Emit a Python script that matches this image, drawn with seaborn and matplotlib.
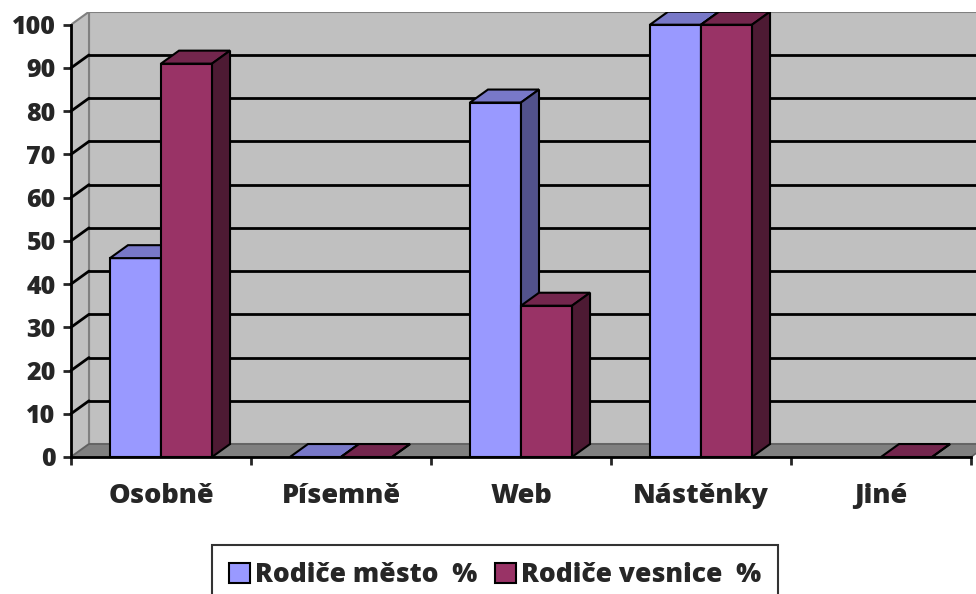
import numpy as np
import pandas as pd
import matplotlib
matplotlib.use("Agg")
import matplotlib.pyplot as plt
from matplotlib.patches import Polygon, Rectangle
import seaborn as sns

categories = ["Osobně", "Písemně", "Web", "Nástěnky", "Jiné"]
series_names = ["Rodiče město  %", "Rodiče vesnice  %"]
mesto = [46, 0, 82, 100, np.nan]
vesnice = [91, 0, 35, 100, 0]
yticks = [0, 10, 20, 30, 40, 50, 60, 70, 80, 90, 100]

front_colors = ["#9999FF", "#993366"]
top_colors = ["#7878C8", "#73264D"]
side_colors = ["#52528C", "#4D1A33"]

rows = []
for c, v in zip(categories, mesto):
    rows.append({"cat": c, "series": series_names[0], "val": v})
for c, v in zip(categories, vesnice):
    rows.append({"cat": c, "series": series_names[1], "val": v})
df = pd.DataFrame(rows).dropna()

sns.set_style("white")
FONT = ["Open Sans", "DejaVu Sans"]
plt.rcParams["font.family"] = FONT
plt.rcParams["font.weight"] = "heavy"

W, H = 976, 594
fig = plt.figure(figsize=(W / 100, H / 100), dpi=100)
DX, DY = 0.1, 3.0
x0, x1 = -0.5, 4.5 + DX
y0, y1 = 0, 100 + DY
px_per_x = 180.0
px_per_y = 4.323
left_px, bottom_px = 71, 457
ax = fig.add_axes([left_px / W, (H - bottom_px) / H,
                   (x1 - x0) * px_per_x / W, (y1 - y0) * px_per_y / H])
fig.patch.set_facecolor("white")
ax.set_facecolor("none")

sns.barplot(data=df, x="cat", y="val", hue="series", order=categories,
            hue_order=series_names, palette=front_colors, width=0.567,
            saturation=1, errorbar=None, edgecolor="black", linewidth=1.5,
            legend=False, ax=ax)
ax.set_xlim(x0, x1)
ax.set_ylim(y0, y1)

bar_patches = [p for p in ax.patches if isinstance(p, Rectangle)]

# walls
back = Polygon([(x0 + DX, DY), (x1, DY), (x1, 100 + DY), (x0 + DX, 100 + DY)],
               closed=True, facecolor="#C0C0C0", edgecolor="#808080", lw=1.5, zorder=0)
ax.add_patch(back)
side = Polygon([(x0, 0), (x0 + DX, DY), (x0 + DX, 100 + DY), (x0, 100)],
               closed=True, facecolor="#C0C0C0", edgecolor="#808080", lw=1.5, zorder=0)
ax.add_patch(side)
floor = Polygon([(x0, 0), (4.5, 0), (4.5 + DX, DY), (x0 + DX, DY)],
                closed=True, facecolor="#808080", edgecolor="#606060", lw=1.2, zorder=0.5)
ax.add_patch(floor)
for v in yticks[1:-1]:
    ax.plot([x0, x0 + DX], [v, v + DY], color="black", lw=2, zorder=0.6, clip_on=False)
    ax.plot([x0 + DX, x1], [v + DY, v + DY], color="black", lw=2, zorder=0.6, clip_on=False)

for p in bar_patches:
    h = p.get_height()
    w = p.get_width()
    if np.isnan(h) or w == 0:
        p.set_visible(False)
        continue
    x = p.get_x()
    fc = matplotlib.colors.to_hex(p.get_facecolor())
    idx = 0 if fc.lower() == front_colors[0].lower() else 1
    z = 2 + x
    p.set_zorder(z)
    top = Polygon([(x, h), (x + w, h), (x + w + DX, h + DY), (x + DX, h + DY)],
                  closed=True, facecolor=top_colors[idx], edgecolor="black", lw=1.5, zorder=z)
    sd = Polygon([(x + w, 0), (x + w + DX, DY), (x + w + DX, h + DY), (x + w, h)],
                 closed=True, facecolor=side_colors[idx], edgecolor="black", lw=1.5, zorder=z)
    ax.add_patch(top)
    ax.add_patch(sd)

# axes
for s in ["top", "right"]:
    ax.spines[s].set_visible(False)
ax.spines["left"].set_bounds(0, 100)
ax.spines["bottom"].set_bounds(-0.5, 4.5)
for s in ["left", "bottom"]:
    ax.spines[s].set_linewidth(2)
    ax.spines[s].set_color("black")
    ax.spines[s].set_zorder(10)

ax.set_yticks(yticks)
ax.set_yticklabels([str(v) for v in yticks], fontsize=18, fontweight="heavy")
ax.tick_params(axis="y", direction="out", length=6, width=2, pad=5, left=True)
ax.set_xticks(range(len(categories)))
ax.set_xticklabels(categories, fontsize=19.5, fontweight="heavy")
ax.set_xticks(np.arange(-0.5, 5.0, 1.0), minor=True)
ax.tick_params(axis="x", which="major", length=0, pad=19)
ax.tick_params(axis="x", which="minor", direction="out", length=6, width=2, bottom=True)
ax.set_xlabel("")
ax.set_ylabel("")

handles = [Rectangle((0, 0), 1, 1, facecolor=c, edgecolor="black", lw=1.5) for c in front_colors]
leg = fig.legend(handles, series_names, loc="upper center", bbox_to_anchor=(495 / W, 1 - 545 / H),
                 ncol=2, frameon=True, fancybox=False, edgecolor="black",
                 prop={"weight": "heavy", "size": 19, "family": FONT},
                 handlelength=0.8, handleheight=0.78, handletextpad=0.19,
                 columnspacing=0.67, borderpad=0.65, borderaxespad=0)
leg.get_frame().set_linewidth(1.5)

fig.savefig("out.png", dpi=100)
